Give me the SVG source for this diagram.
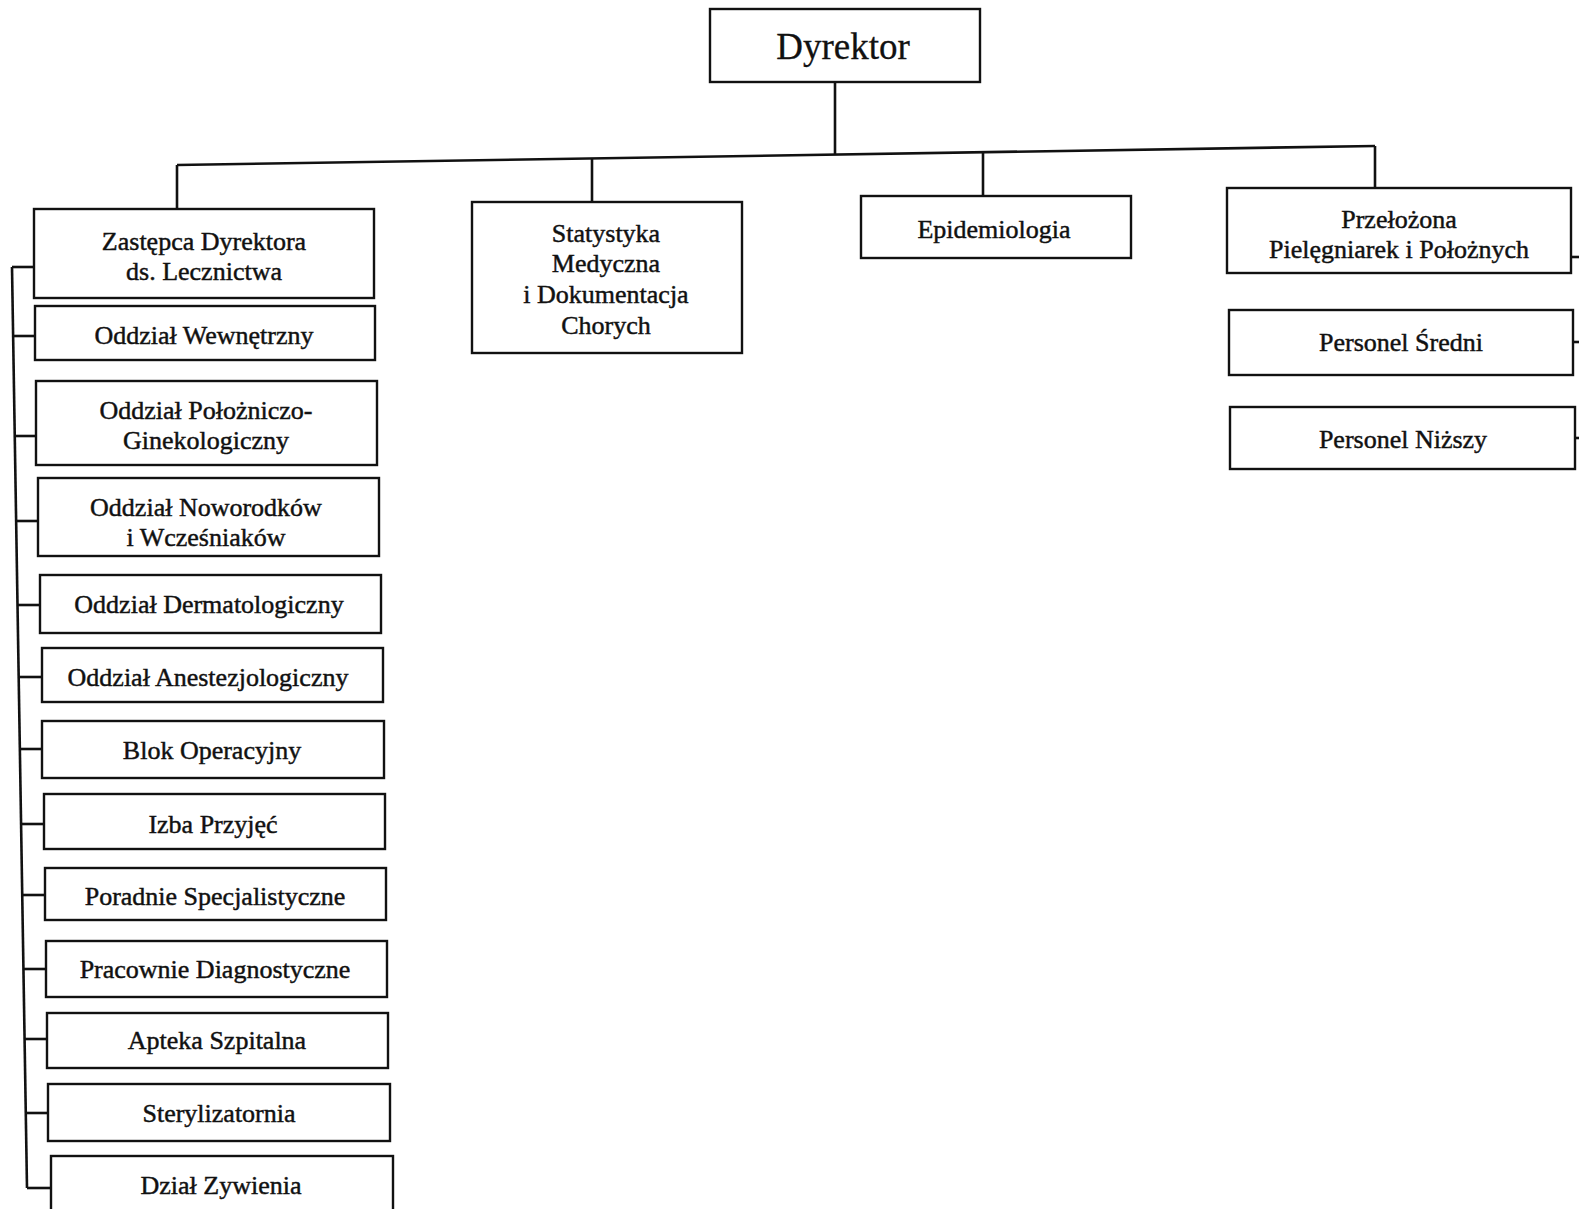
<svg xmlns="http://www.w3.org/2000/svg" width="1579" height="1209" viewBox="0 0 1579 1209">
<style>
.box{fill:#fff;stroke:#111;stroke-width:2.4}
.t{font-family:"Liberation Serif","Times New Roman",serif;font-size:26px;fill:#111;stroke:#111;stroke-width:0.45;text-anchor:middle}
.big{font-size:37px;stroke-width:0.3}
.ln{fill:none;stroke:#111;stroke-width:2.6}
</style>
<rect width="1579" height="1209" fill="#fff"/>
<g id="connectors">
<line class="ln" x1="835" y1="82" x2="835" y2="155"/>
<line class="ln" x1="177" y1="165" x2="1375" y2="146"/>
<line class="ln" x1="177" y1="165" x2="177" y2="209"/>
<line class="ln" x1="592" y1="158" x2="592" y2="202"/>
<line class="ln" x1="983" y1="152" x2="983" y2="196"/>
<line class="ln" x1="1375" y1="146" x2="1375" y2="188"/>
<line class="ln" x1="12" y1="267" x2="27" y2="1188"/>
<line class="ln" x1="12" y1="267" x2="34" y2="267"/>
<line class="ln" x1="13.1" y1="336" x2="35" y2="336"/>
<line class="ln" x1="14.7" y1="436" x2="36" y2="436"/>
<line class="ln" x1="16.1" y1="521" x2="38" y2="521"/>
<line class="ln" x1="17.4" y1="605" x2="40" y2="605"/>
<line class="ln" x1="18.6" y1="677" x2="42" y2="677"/>
<line class="ln" x1="19.8" y1="749" x2="42" y2="749"/>
<line class="ln" x1="21" y1="824" x2="44" y2="824"/>
<line class="ln" x1="22.1" y1="895" x2="45" y2="895"/>
<line class="ln" x1="23.3" y1="969" x2="46" y2="969"/>
<line class="ln" x1="24.5" y1="1039" x2="47" y2="1039"/>
<line class="ln" x1="25.7" y1="1113" x2="48" y2="1113"/>
<line class="ln" x1="27" y1="1188" x2="51" y2="1188"/>
<line class="ln" x1="1571" y1="257" x2="1579" y2="257"/>
<line class="ln" x1="1573" y1="342" x2="1579" y2="342"/>
<line class="ln" x1="1575" y1="438" x2="1579" y2="438"/>
</g>
<g id="dyrektor"><rect class="box" x="710" y="9" width="270" height="73"/><text class="t big" x="843" y="59">Dyrektor</text></g>
<g id="zastepca"><rect class="box" x="34" y="209" width="340" height="89"/><text class="t" x="204" y="250">Zastępca Dyrektora</text><text class="t" x="204" y="280">ds. Lecznictwa</text></g>
<g id="statystyka"><rect class="box" x="472" y="202" width="270" height="151"/><text class="t" x="606" y="242">Statystyka</text><text class="t" x="606" y="272">Medyczna</text><text class="t" x="606" y="303">i Dokumentacja</text><text class="t" x="606" y="334">Chorych</text></g>
<g id="epidemiologia"><rect class="box" x="861" y="196" width="270" height="62"/><text class="t" x="994" y="238">Epidemiologia</text></g>
<g id="przelozona"><rect class="box" x="1227" y="188" width="344" height="85"/><text class="t" x="1399" y="228">Przełożona</text><text class="t" x="1399" y="258">Pielęgniarek i Położnych</text></g>
<g id="personel-sredni"><rect class="box" x="1229" y="310" width="344" height="65"/><text class="t" x="1401" y="351">Personel Średni</text></g>
<g id="personel-nizszy"><rect class="box" x="1230" y="407" width="345" height="62"/><text class="t" x="1403" y="448">Personel Niższy</text></g>
<g id="wewnetrzny"><rect class="box" x="35" y="306" width="340" height="54"/><text class="t" x="204" y="344">Oddział Wewnętrzny</text></g>
<g id="polozniczo"><rect class="box" x="36" y="381" width="341" height="84"/><text class="t" x="206" y="419">Oddział Położniczo-</text><text class="t" x="206" y="449">Ginekologiczny</text></g>
<g id="noworodkow"><rect class="box" x="38" y="478" width="341" height="78"/><text class="t" x="206" y="516">Oddział Noworodków</text><text class="t" x="206" y="546">i Wcześniaków</text></g>
<g id="dermatologiczny"><rect class="box" x="40" y="575" width="341" height="58"/><text class="t" x="209" y="613">Oddział Dermatologiczny</text></g>
<g id="anestezjologiczny"><rect class="box" x="42" y="648" width="341" height="54"/><text class="t" x="208" y="686">Oddział Anestezjologiczny</text></g>
<g id="blok"><rect class="box" x="42" y="721" width="342" height="57"/><text class="t" x="212" y="759">Blok Operacyjny</text></g>
<g id="izba"><rect class="box" x="44" y="794" width="341" height="55"/><text class="t" x="213" y="833">Izba Przyjęć</text></g>
<g id="poradnie"><rect class="box" x="45" y="868" width="341" height="52"/><text class="t" x="215" y="905">Poradnie Specjalistyczne</text></g>
<g id="pracownie"><rect class="box" x="46" y="941" width="341" height="56"/><text class="t" x="215" y="978">Pracownie Diagnostyczne</text></g>
<g id="apteka"><rect class="box" x="47" y="1013" width="341" height="55"/><text class="t" x="217" y="1049">Apteka Szpitalna</text></g>
<g id="sterylizatornia"><rect class="box" x="48" y="1084" width="342" height="57"/><text class="t" x="219" y="1122">Sterylizatornia</text></g>
<g id="zywienia"><rect class="box" x="51" y="1156" width="342" height="70"/><text class="t" x="221" y="1194">Dział Zywienia</text></g>
</svg>
